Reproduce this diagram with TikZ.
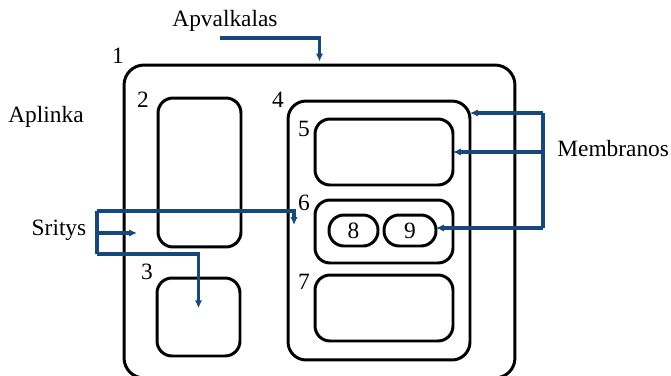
\documentclass[tikz,border=0pt]{standalone}
\usepackage{fontspec}
\setmainfont{Liberation Serif}
\usetikzlibrary{arrows.meta,positioning}
\definecolor{linkblue}{RGB}{22,72,124}

\begin{document}
\begin{tikzpicture}[x=0.02cm,y=-0.02cm,font=\fontsize{13.3}{16}\selectfont,>=Latex,
 box/.style={draw,line width=1.7pt,inner sep=0pt,outer sep=0pt},
 num/.style={inner sep=0pt},
 link/.style={draw=linkblue,line width=1.9pt},
 arr/.style={link,-{Latex[length=4.5pt,width=4.2pt]}}]
\useasboundingbox (0,0) rectangle (671,375);
% compartments
\node[box,rounded corners=0.4cm,minimum width=7.82cm,minimum height=6.26cm] (box1) at (319.5,221.5) {};
\node[box,rounded corners=0.3cm,minimum width=1.66cm,minimum height=2.98cm] (box2) at (199.5,172.5) {};
\node[box,rounded corners=0.3cm,minimum width=1.66cm,minimum height=1.56cm] (box3) at (198.5,317) {};
\node[box,rounded corners=0.36cm,minimum width=3.64cm,minimum height=5.18cm] (box4) at (379,230.5) {};
\node[box,rounded corners=0.3cm,minimum width=2.76cm,minimum height=1.32cm] (box5) at (384,152) {};
\node[box,rounded corners=0.3cm,minimum width=2.76cm,minimum height=1.26cm] (box6) at (384,231.5) {};
\node[box,rounded corners=0.3cm,minimum width=2.76cm,minimum height=1.32cm] (box7) at (384,308) {};
\node[box,rounded corners=0.3cm,minimum width=0.98cm,minimum height=0.62cm] (box8) at (353.5,230.5) {8};
\node[box,rounded corners=0.3cm,minimum width=1.04cm,minimum height=0.62cm] (box9) at (410,230.5) {9};
% numbers
\node[num] (n1) at (118,56) {1};
\node[num] (n2) at (143,100) {2};
\node[num] (n3) at (147,272) {3};
\node[num] (n4) at (278,100) {4};
\node[num] (n5) at (304,129) {5};
\node[num] (n6) at (304,203) {6};
\node[num] (n7) at (304,282) {7};
% captions
\node (apv) at (225,21) {Apvalkalas};
\node (apl) at (46,117) {Aplinka};
\node (sri) at (59,230) {Sritys};
\node[anchor=west,inner sep=0pt] (mem) at (557,149) {Membranos};
% shell
\coordinate (apvs) at (220,38);
\draw[arr,shorten >=2pt] (apvs) -| (box1.north);
% membranes
\coordinate (mtop) at (543,113);
\coordinate (mbot) at (543,228);
\draw[link] (mtop) -- (mbot);
\draw[arr] (mtop) -- (box4.east |- mtop);
\draw[arr] (box5.east -| mtop) -- (box5.east);
\draw[arr] (mbot) -- (box9.east |- mbot);
% regions
\coordinate (stop) at (97,211);
\coordinate (smid) at (97,233);
\coordinate (sbot) at (97,254);
\coordinate (s4) at (294,225);
\coordinate (s1) at (137,233);
\draw[link] (stop) -- (sbot);
\draw[arr] (stop) -| (s4);
\draw[arr] (smid) -- (s1);
\draw[arr,shorten >=5pt] (sbot) -| (box3.center);
\end{tikzpicture}
\end{document}
